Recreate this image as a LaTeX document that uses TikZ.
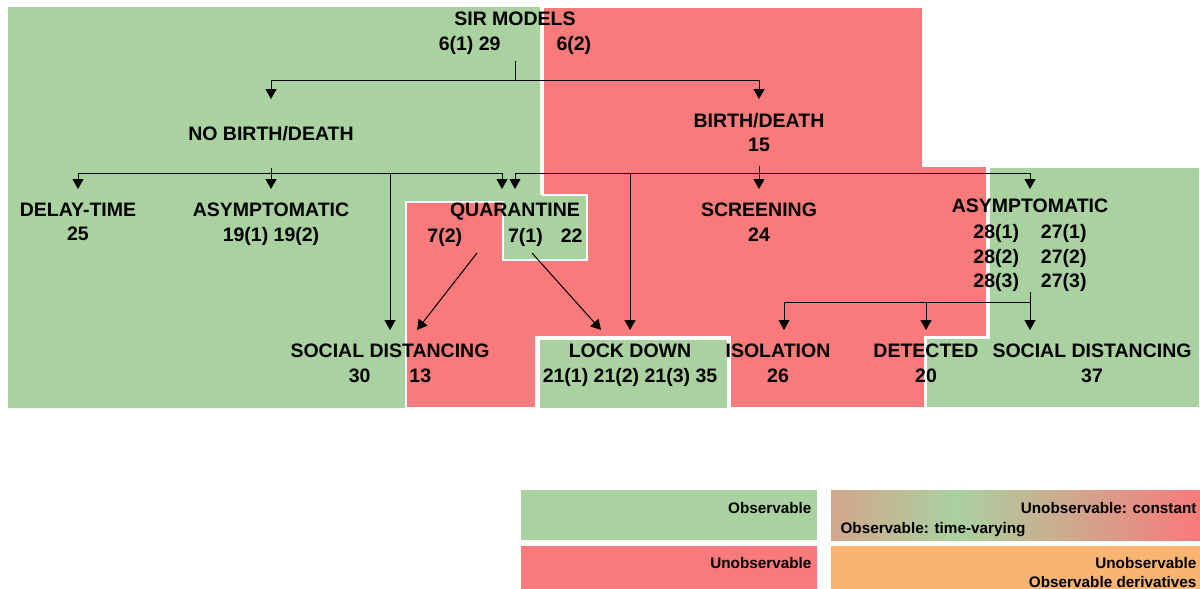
\documentclass[tikz,border=0pt]{standalone}
\usepackage{fontspec}
\setmainfont{Liberation Sans}
\usepackage{tikz}
\usetikzlibrary{arrows.meta}

\definecolor{obsgreen}{RGB}{170,209,160}
\definecolor{unobsred}{RGB}{248,122,122}
\definecolor{derivorange}{RGB}{248,181,114}
\definecolor{tanmix}{RGB}{210,166,140}

\tikzset{
  tag/.style={font=\bfseries\fontsize{19.5}{24.5}\selectfont,
              align=center,inner sep=0pt},
  lbl/.style={tag,anchor=north,outer ysep=14pt},
  legend/.style={font=\bfseries\fontsize{15.3}{19}\selectfont,inner sep=0pt},
}

\begin{document}
\begin{tikzpicture}[x=1pt,y=-1pt,line width=1pt,
                    >={Triangle[width=11pt,length=10pt]}]

  \useasboundingbox (0,0) rectangle (1200,589) ;
%
  \fill [obsgreen] (8,7) -- (540,7) -- (540,195) -- (587,195) -- (587,260)
    -- (503,260) -- (503,202) -- (406,202) -- (406,408) -- (8,408) -- cycle ;
  \fill [unobsred,draw=white,line width=2pt] (543,7) -- (923,7) -- (923,166)
    -- (987,166) -- (987,337) -- (925,337) -- (925,408) -- (406,408)
    -- (406,202) -- (503,202) -- (503,260) -- (587,260) -- (587,195)
    -- (543,195) -- cycle ;
  \fill [obsgreen,draw=white,line width=2pt] (989,167) -- (1200,167)
    -- (1200,408) -- (926,408) -- (926,338) -- (989,338) -- cycle ;
  \fill [white] (535,336) rectangle (731,408) ;
  \fill [obsgreen] (540,340) rectangle (727,408) ;
%
  \node [lbl,outer ysep=7pt] (sir) at (515,5)
        {SIR MODELS\\6(1) 29\hspace{56pt}6(2)} ;
  \node [lbl,outer ysep=27pt] (nobd) at (271,99) {NO BIRTH/DEATH} ;
  \node [lbl] (bd) at (759,99) {BIRTH/DEATH\\15} ;
%
  \node [lbl] (delay) at (78,189) {DELAY-TIME\\25} ;
  \node [lbl] (asyml) at (271,189) {ASYMPTOMATIC\\19(1) 19(2)} ;
  \node [lbl] (quar) at (515,189) {QUARANTINE} ;
  \node [tag,anchor=north] (qnum) at (505,228)
        {7(2)\hspace{46pt}7(1)\hspace{18pt}22} ;
  \node [lbl] (screen) at (759,189) {SCREENING\\24} ;
  \node [lbl,outer ysep=10pt] (asymr) at (1030,189) {ASYMPTOMATIC} ;
  \node [tag,anchor=north] (asymrnum) at (1030,224)
        {28(1)\hspace{22pt}27(1)\\28(2)\hspace{22pt}27(2)\\28(3)\hspace{22pt}27(3)} ;
%
  \node [lbl] (sdleft) at (390,330) {SOCIAL DISTANCING\\30\hspace{39pt}13} ;
  \node [lbl] (lock) at (630,330) {LOCK DOWN\\21(1) 21(2) 21(3) 35} ;
  \node [lbl] (isol) at (778,330) {ISOLATION\\26} ;
  \node [lbl] (detect) at (926,330) {DETECTED\\20} ;
  \node [lbl] (sdright) at (1092,330) {SOCIAL DISTANCING\\37} ;
%
  \coordinate (sirfork) at (515,80) ;
  \coordinate (nobdfork) at (271,173) ;
  \coordinate (bdfork) at (759,173) ;
  \coordinate (asymfork) at (1030,302) ;
  \coordinate (qout1) at (477,253) ;
  \coordinate (qout2) at (532,253) ;
%
  \draw (sir) -- (sirfork) ;
  \draw [->] (sirfork) -| (nobd) ;
  \draw [->] (sirfork) -| (bd) ;
%
  \draw (nobd) -- (nobdfork) ;
  \draw [->] (nobdfork) -| (delay) ;
  \draw [->] (nobdfork) -| (asyml) ;
  \draw [->] (nobdfork) -| (sdleft) ;
  \draw [->] (nobdfork) -| ([xshift=-13pt]quar.north) ;
%
  \draw (bd) -- (bdfork) ;
  \draw [->] (bdfork) -| (quar) ;
  \draw [->] (bdfork) -| (lock) ;
  \draw [->] (bdfork) -| (screen) ;
  \draw [->] (bdfork) -| (asymr) ;
%
  \draw [->] (qout1) -- ([xshift=27pt]sdleft.north) ;
  \draw [->] (qout2) -- ([xshift=-29pt]lock.north) ;
%
  \draw [->] (asymrnum) -- (asymrnum |- sdright.north) ;
  \draw [->] (asymfork) -| ([xshift=6pt]isol.north) ;
  \draw [->] (asymfork) -| (detect) ;
%
  \fill [obsgreen] (521,490) rectangle (817,540) ;
  \shade [left color=tanmix,right color=obsgreen] (831,490) rectangle (958,540) ;
  \shade [left color=obsgreen,middle color=tanmix,right color=unobsred]
         (957,490) rectangle (1200,540) ;
  \fill [unobsred] (521,546) rectangle (817,589) ;
  \fill [derivorange] (831,546) rectangle (1200,589) ;
%
  \node [legend,anchor=base east] (legobs) at (812,513) {Observable} ;
  \node [legend,anchor=base east] (legconst) at (1197,513) {Unobservable: constant} ;
  \node [legend,anchor=base west] (legtime) at (840,533) {Observable: time-varying} ;
  \node [legend,anchor=base east] (legunobs) at (812,568) {Unobservable} ;
  \node [legend,anchor=base east] (legunobstwo) at (1197,568) {Unobservable} ;
  \node [legend,anchor=base east] (legderiv) at (1197,587) {Observable derivatives} ;

\end{tikzpicture}
\end{document}
